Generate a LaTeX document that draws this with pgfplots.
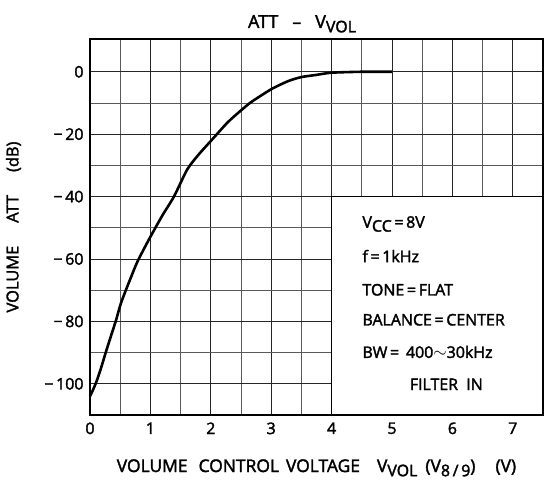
\documentclass[border=0pt]{standalone}
\usepackage{fontspec}
\setmainfont{Open Sans}[FakeBold=2]
\usepackage{pgfplots}
\pgfplotsset{compat=1.18}
\newcommand\sub[1]{\raisebox{-0.45ex}{\fontsize{16}{16}\selectfont #1}}
\begin{document}
\fontsize{16}{19}\selectfont
\begin{tikzpicture}
\path[use as bounding box] (-90bp,-66bp) rectangle (470bp,415bp);
\begin{axis}[
  scale only axis, width=453bp, height=376bp,
  xmin=0, xmax=7.5, ymin=-110, ymax=10.5,
  clip=false,
  xtick={0,...,7}, minor xtick={0.5,1.5,...,6.5},
  xticklabels={0,1,2,3,4,5,6,7},
  ytick={-100,-80,-60,-40,-20,0},
  minor ytick={-90,-70,-50,-30,-10},
  yticklabels={−\,100,−\,80,−\,60,−\,40,−\,20,0},
  grid=both,
  major grid style={black!85, line width=0.9pt},
  minor grid style={black!65, line width=0.9pt},
  major tick length=0pt, minor tick length=0pt,
  axis line style={line width=1.8pt},
  ticklabel style={font=\fontsize{16}{19}\selectfont},
  xticklabel style={yshift=-2bp},
  yticklabel style={xshift=-1bp},
]
\addplot[black, line width=2.6pt, smooth, tension=0.4] coordinates {
(0,-104) (0.06,-101.5) (0.12,-98.6) (0.19,-94.5) (0.26,-90) (0.35,-84.5)
(0.43,-79.7) (0.51,-74.3) (0.62,-68.7) (0.78,-61.1) (0.98,-53.6) (1.2,-46)
(1.39,-40) (1.61,-31.3) (1.8,-26.5) (2.0,-22.2) (2.28,-16.2) (2.5,-12.4)
(2.67,-9.7) (3.0,-5.6) (3.28,-3.0) (3.5,-1.7) (3.75,-1.0) (4.0,-0.3)
(4.5,0) (5.0,0)
};
\fill[white] (axis cs:4,-110) rectangle (axis cs:7.5,-40);
\draw[line width=1.8pt] (axis cs:4,-110) -- (axis cs:4,-40) -- (axis cs:7.5,-40) -- (axis cs:7.5,-110) -- cycle;
\node[anchor=base west] at (axis cs:4.42,-50) {V\sub{CC}\,=\,8V};
\node[anchor=base west] at (axis cs:4.42,-61) {f\,=\,1kHz};
\node[anchor=base west] at (axis cs:4.42,-71.7) {TONE\,=\,FLAT};
\node[anchor=base west] at (axis cs:4.42,-81.3) {BALANCE\,=\,CENTER};
\node[anchor=base west] at (axis cs:4.42,-91.7) {BW\,=\, 400$\sim$30kHz};
\node[anchor=base] at (axis cs:5.9,-102) {FILTER\ \ IN};
\end{axis}
\node[anchor=base, font=\fontsize{18}{21}\selectfont] at (212bp,387bp) {ATT\ \ \ –\ \ \ V\sub{VOL}};
\node[anchor=base, font=\fontsize{17.5}{20}\selectfont] at (226.5bp,-57bp) {VOLUME\hspace{11bp}CONTROL\hspace{7bp}VOLTAGE\hspace{17bp}V\sub{VOL}\hspace{8bp}(V\sub{8\,/\,9})\hspace{20bp}(V)};
\node[rotate=90, anchor=center, font=\fontsize{16.5}{19}\selectfont] at (-76.5bp,188bp) {VOLUME\hspace{23bp}ATT\hspace{23bp}(dB)};
\end{tikzpicture}
\end{document}
